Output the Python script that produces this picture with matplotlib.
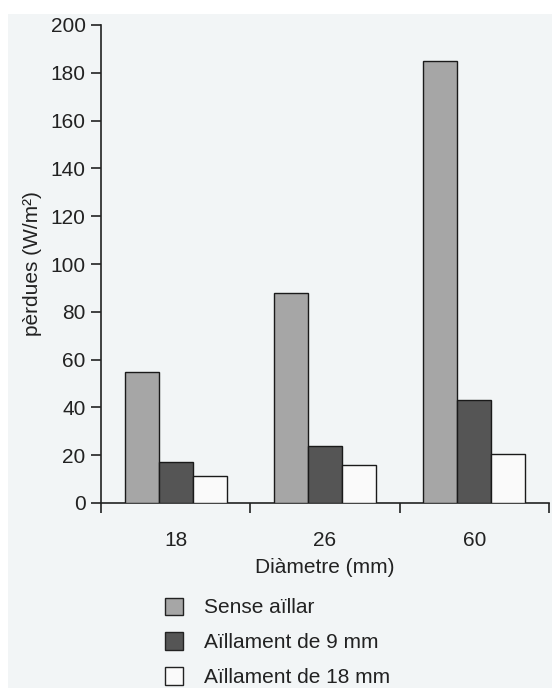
import matplotlib
matplotlib.use("Agg")
import matplotlib.pyplot as plt
import numpy as np
from matplotlib.patches import Rectangle, Patch

plt.rcParams['font.family'] = ['Liberation Sans', 'DejaVu Sans']

diameters = ["18", "26", "60"]
series_names = ["Sense aïllar", "Aïllament de 9 mm", "Aïllament de 18 mm"]
sense_aillar = [55, 88, 185]
aillament_9 = [17, 24, 43]
aillament_18 = [11.5, 16, 20.5]
series_values = [sense_aillar, aillament_9, aillament_18]
y_ticks = [0, 20, 40, 60, 80, 100, 120, 140, 160, 180, 200]

colors = ["#a6a6a6", "#555555", "#fafafa"]
panel_color = "#f2f5f6"
ink = "#222222"
fs = 15

fig = plt.figure(figsize=(5.52, 6.88), dpi=100)
fig.patch.set_facecolor("white")
fig.patches.append(Rectangle((8 / 552, 0), 1 - 8 / 552, 1 - 14 / 688,
                             transform=fig.transFigure, facecolor=panel_color,
                             edgecolor="none", zorder=-10))

ax = fig.add_axes([101 / 552, 1 - 503 / 688, 448 / 552, 478 / 688])
ax.set_facecolor("none")
ax.set_zorder(5)

x = np.arange(len(diameters))
width = 0.227
for i, (vals, col) in enumerate(zip(series_values, colors)):
    ax.bar(x + (i - 1) * width, vals, width, color=col, edgecolor="#1a1a1a",
           linewidth=1.0, label=series_names[i], zorder=3)

ax.set_xlim(-0.5, len(diameters) - 0.5)
ax.set_ylim(0, 200)
ax.set_yticks(y_ticks)
ax.set_yticklabels([str(t) for t in y_ticks], fontsize=fs, color=ink)

# Category labels centred, tick marks on the group boundaries
ax.set_xticks(x)
ax.set_xticklabels(diameters, fontsize=fs, color=ink)
ax.tick_params(axis="x", which="major", length=0, pad=20)
ax.set_xticks(np.arange(len(diameters) + 1) - 0.5, minor=True)
ax.tick_params(axis="x", which="minor", length=7, width=1.2, color=ink,
               direction="out")
ax.tick_params(axis="y", length=7, width=1.2, color=ink, direction="out", pad=4)

for side in ["top", "right"]:
    ax.spines[side].set_visible(False)
for side in ["left", "bottom"]:
    ax.spines[side].set_linewidth(1.2)
    ax.spines[side].set_color(ink)

ax.set_xlabel("Diàmetre (mm)", fontsize=fs, color=ink, labelpad=6)
ax.set_ylabel("pèrdues (W/m²)", fontsize=fs, color=ink, labelpad=6)

handles = [Patch(facecolor=c, edgecolor=ink, linewidth=1.0) for c in colors]
fig.legend(handles, series_names, loc="upper left",
           bbox_to_anchor=(150 / 552, 1 - 583 / 688), frameon=False,
           fontsize=fs, handlelength=0.9, handleheight=0.9, handletextpad=1.0,
           labelspacing=0.72, labelcolor=ink, borderpad=0.2)

fig.savefig("out.png", dpi=100, facecolor=fig.get_facecolor())
